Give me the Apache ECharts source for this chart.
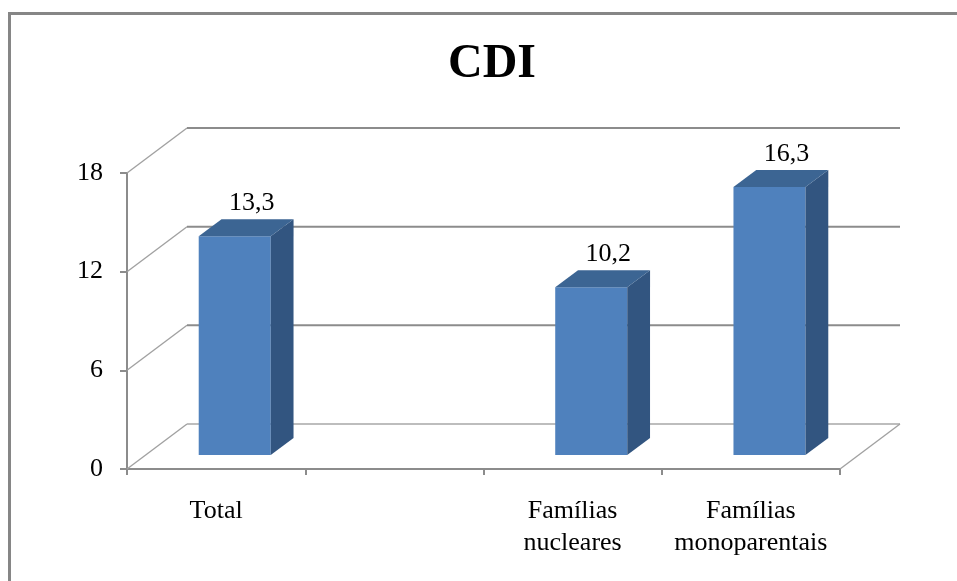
<!DOCTYPE html>
<html>
<head>
<meta charset="utf-8">
<script src="https://cdn.jsdelivr.net/npm/echarts@6/dist/echarts.min.js"></script>
<style>
  html, body { margin: 0; padding: 0; background: #fff; }
  #container { width: 957px; height: 581px; }
</style>
</head>
<body>
<div id="container"></div>
<script>
// CDI - barras 3D estilo Excel
var categories = ['Total', '', 'Famílias\nnucleares', 'Famílias\nmonoparentais'];
var values = [13.3, null, 10.2, 16.3];
var valueLabels = ['13,3', '', '10,2', '16,3'];
var yTicks = [0, 6, 12, 18];

var dom = document.getElementById('container');
var myChart = echarts.init(dom);

// profundidade da "caixa" 3D em pixels
var DX = 60, DY = -45;
var FRONT = 0.31, BACK = 0.69;
var serif = 'Liberation Serif';

function renderWall(params, api) {
    var v = api.value(1);
    var p = api.coord([0, v]);
    var w = api.size([1, 0])[0];
    var left = p[0] - w / 2;
    var right = left + w * categories.length;
    var children = [];
    children.push({
        type: 'line',
        shape: { x1: left, y1: p[1], x2: left + DX, y2: p[1] + DY },
        style: { stroke: '#a0a0a0', lineWidth: 1.3 }
    });
    children.push({
        type: 'line',
        shape: { x1: left + DX, y1: p[1] + DY, x2: right + DX, y2: p[1] + DY },
        style: { stroke: v === 0 ? '#bdbdbd' : '#8c8c8c', lineWidth: 2 }
    });
    if (v === 0) {
        children.push({
            type: 'line',
            shape: { x1: right, y1: p[1], x2: right + DX, y2: p[1] + DY },
            style: { stroke: '#a0a0a0', lineWidth: 1.3 }
        });
    }
    return { type: 'group', children: children };
}

function renderBar(params, api) {
    var idx = api.value(0);
    var v = api.value(1);
    if (v == null || isNaN(v)) return;
    var base = api.coord([idx, 0]);
    var top = api.coord([idx, v]);
    var w = api.size([1, 0])[0] * 0.404;
    var fx = FRONT * DX, fy = FRONT * DY;
    var dx = (BACK - FRONT) * DX, dy = (BACK - FRONT) * DY;
    var xl = base[0] - w / 2 + fx;
    var xr = xl + w;
    var yb = base[1] + fy;
    var yt = top[1] + fy;
    return {
        type: 'group',
        children: [
            {
                type: 'rect',
                shape: { x: xl, y: yt, width: w, height: yb - yt },
                style: { fill: '#4f81bd' }
            },
            {
                type: 'polygon',
                shape: { points: [[xr, yt], [xr + dx, yt + dy], [xr + dx, yb + dy], [xr, yb]] },
                style: { fill: '#325580' }
            },
            {
                type: 'polygon',
                shape: { points: [[xl, yt], [xr, yt], [xr + dx, yt + dy], [xl + dx, yt + dy]] },
                style: { fill: '#3c6593' }
            },
            {
                type: 'text',
                x: base[0] + fx + 17,
                y: yt + dy - 3,
                style: {
                    text: valueLabels[idx],
                    fill: '#000',
                    font: '26px "' + serif + '"',
                    align: 'center',
                    verticalAlign: 'bottom'
                }
            }
        ]
    };
}

var option = {
    backgroundColor: '#fff',
    animation: false,
    title: {
        text: 'CDI',
        left: 443,
        top: 36,
        textStyle: {
            fontFamily: serif,
            fontWeight: 'bold',
            fontSize: 48,
            color: '#000'
        }
    },
    graphic: [{
        type: 'rect',
        shape: { x: 9.5, y: 13.5, width: 1000, height: 1000 },
        style: { fill: 'none', stroke: '#868686', lineWidth: 3 },
        silent: true
    }],
    grid: { left: 127, right: 117, top: 173, bottom: 112 },
    xAxis: {
        type: 'category',
        data: categories,
        axisLine: { lineStyle: { color: '#8c8c8c', width: 2 } },
        axisTick: { show: true, length: 6, interval: 0, lineStyle: { color: '#8c8c8c', width: 2 } },
        axisLabel: {
            interval: 0,
            margin: 26,
            color: '#000',
            fontFamily: serif,
            fontSize: 26,
            lineHeight: 32
        }
    },
    yAxis: {
        type: 'value',
        min: 0,
        max: 18,
        interval: 6,
        axisLine: { show: true, lineStyle: { color: '#8c8c8c', width: 2 } },
        axisTick: { show: true, length: 7, lineStyle: { color: '#8c8c8c', width: 2 } },
        splitLine: { show: false },
        axisLabel: {
            margin: 24,
            color: '#000',
            fontFamily: serif,
            fontSize: 26
        }
    },
    series: [
        {
            type: 'custom',
            name: 'parede',
            renderItem: renderWall,
            data: yTicks.map(function (v) { return [0, v]; }),
            silent: true
        },
        {
            type: 'custom',
            name: 'CDI',
            renderItem: renderBar,
            data: values.map(function (v, i) { return [i, v == null ? '-' : v]; })
        }
    ]
};

myChart.setOption(option);
</script>
</body>
</html>
